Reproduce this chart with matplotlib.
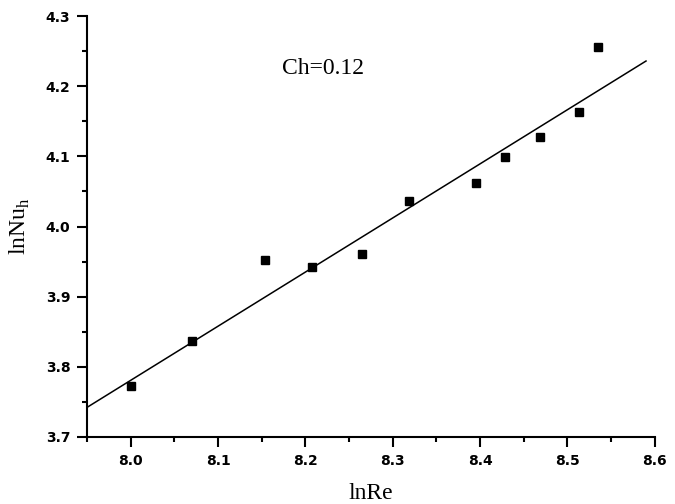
import matplotlib
matplotlib.use("Agg")
import matplotlib.pyplot as plt
from matplotlib.ticker import MultipleLocator

# measured points
ln_re = [8.000, 8.070, 8.154, 8.207, 8.265, 8.319, 8.395, 8.429, 8.469, 8.513, 8.535]
ln_nu = [3.772, 3.837, 3.952, 3.942, 3.961, 4.036, 4.062, 4.099, 4.127, 4.163, 4.256]

# linear fit line end points
fit_x = [7.951, 8.590]
fit_y = [3.743, 4.236]

fig = plt.figure(figsize=(6.75, 5.04), dpi=100)
ax = fig.add_axes([0.129, 0.133, 0.841, 0.835])

ax.plot(fit_x, fit_y, color="black", lw=1.1)
ax.plot(ln_re, ln_nu, ls="none", marker="s", ms=6, color="black")

ax.set_xlim(7.95, 8.6)
ax.set_ylim(3.7, 4.3)
ax.xaxis.set_major_locator(MultipleLocator(0.1))
ax.xaxis.set_minor_locator(MultipleLocator(0.05))
ax.yaxis.set_major_locator(MultipleLocator(0.1))
ax.yaxis.set_minor_locator(MultipleLocator(0.05))
ax.xaxis.set_major_formatter(plt.FormatStrFormatter("%.1f"))
ax.yaxis.set_major_formatter(plt.FormatStrFormatter("%.1f"))

for s in ["top", "right"]:
    ax.spines[s].set_visible(False)
for s in ["left", "bottom"]:
    ax.spines[s].set_linewidth(1.5)

ax.tick_params(which="major", direction="out", length=7, width=1.5, pad=5,
               labelsize=10)
ax.tick_params(which="minor", direction="out", length=3.5, width=1.5)
for lbl in ax.get_xticklabels() + ax.get_yticklabels():
    lbl.set_fontweight("bold")

serif = "Liberation Serif"
ax.set_xlabel("lnRe", fontsize=17, family=serif, labelpad=11)
ax.set_ylabel("lnNu$_\\mathregular{h}$", fontsize=17, family=serif, labelpad=10)
ax.text(8.22, 4.226, "Ch=0.12", fontsize=17, family=serif, ha="center", va="center")

fig.savefig("out.png", dpi=100)
